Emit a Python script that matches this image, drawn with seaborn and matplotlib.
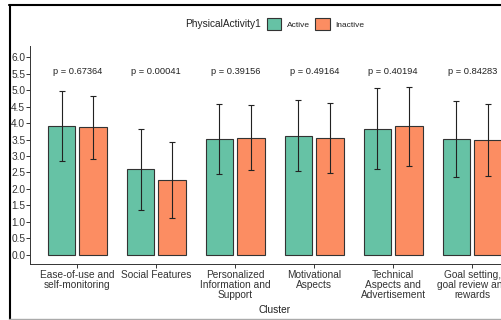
import matplotlib
matplotlib.use("Agg")
import matplotlib.pyplot as plt
import seaborn as sns
import pandas as pd
from matplotlib.lines import Line2D
from matplotlib.patches import Patch

clusters = ["Ease-of-use and\nself-monitoring", "Social Features",
            "Personalized\nInformation and\nSupport", "Motivational\nAspects",
            "Technical\nAspects and\nAdvertisement", "Goal setting,\ngoal review and\nrewards"]
groups = ["Active", "Inactive"]
active_mean = [3.91, 2.60, 3.51, 3.62, 3.83, 3.51]
active_sd = [1.06, 1.23, 1.07, 1.08, 1.23, 1.15]
inactive_mean = [3.87, 2.27, 3.56, 3.55, 3.90, 3.48]
inactive_sd = [0.96, 1.14, 1.00, 1.07, 1.20, 1.10]
p_values = ["0.67364", "0.00041", "0.39156", "0.49164", "0.40194", "0.84283"]
y_ticks = [0.0, 0.5, 1.0, 1.5, 2.0, 2.5, 3.0, 3.5, 4.0, 4.5, 5.0, 5.5, 6.0]

df = pd.DataFrame({
    "Cluster": clusters * 2,
    "PhysicalActivity1": [groups[0]] * len(clusters) + [groups[1]] * len(clusters),
    "mean": active_mean + inactive_mean,
    "sd": active_sd + inactive_sd,
})

sns.set_style("white")
plt.rcParams["font.family"] = ["Liberation Sans", "DejaVu Sans"]

W, H = 501, 320
fig = plt.figure(figsize=(W / 100, H / 100), dpi=100)
fig.patch.set_facecolor("white")

def fx(px):
    return px / W

def fy(py):
    return 1 - py / H

ax_left, ax_right, ax_top, ax_bottom = 30, 519.5, 46, 264
ax = fig.add_axes([fx(ax_left), fy(ax_bottom), (ax_right - ax_left) / W, (ax_bottom - ax_top) / H])

colors = ["#66C2A5", "#FC8D62"]
sns.barplot(data=df, x="Cluster", y="mean", hue="PhysicalActivity1", hue_order=groups,
            palette=colors, saturation=1, width=0.8, gap=0.125, errorbar=None,
            edgecolor="#333333", linewidth=0.8, ax=ax, legend=False)

sd_by_group = {groups[0]: active_sd, groups[1]: inactive_sd}
mean_by_group = {groups[0]: active_mean, groups[1]: inactive_mean}
for g, cont in zip(groups, ax.containers):
    xs = [b.get_x() + b.get_width() / 2 for b in cont]
    ax.errorbar(xs, mean_by_group[g], yerr=sd_by_group[g], fmt="none",
                ecolor="#222222", elinewidth=0.8, capsize=2.2, capthick=0.8, zorder=5)

for i, p in enumerate(p_values):
    ax.text(i, 5.58, f"p = {p}", ha="center", va="center", fontsize=6.7, color="#222222")

ax.set_xlim(-0.6, 5.6)
ax.set_ylim(-0.28, 6.34)
ax.set_yticks(y_ticks)
ax.set_yticklabels([f"{v:.1f}" for v in y_ticks])
ax.set_ylabel("")

for s in ["top", "right"]:
    ax.spines[s].set_visible(False)
for s in ["left", "bottom"]:
    ax.spines[s].set_color("#333333")
    ax.spines[s].set_linewidth(0.7)

ax.tick_params(axis="both", which="both", length=2.6, width=0.7, color="#333333",
               labelsize=7.3, labelcolor="#333333", left=True, bottom=True)
ax.tick_params(axis="y", pad=0.8)
ax.tick_params(axis="x", pad=1.5)
for lab in ax.get_xticklabels():
    lab.set_linespacing(1.05)
    lab.set_ha("center")

ax.set_xlabel("Cluster", fontsize=7.3, color="#222222")
ax.xaxis.set_label_coords(0.5, (ax_bottom - 310) / (ax_bottom - ax_top))
ax.xaxis.label.set_va("center")

# legend (ggplot-style, title inline)
fig.text(fx(260.7), fy(24), "PhysicalActivity1", ha="right", va="center", fontsize=7.3, color="#222222")
handles = [Patch(facecolor=c, edgecolor="#333333", linewidth=0.8) for c in colors]
fs = 6.0
em = fs / 0.72
leg = fig.legend(handles, groups, loc="center left", bbox_to_anchor=(fx(266.7), fy(24)),
                 ncol=2, frameon=False, fontsize=fs, handlelength=14.5 / em, handleheight=14.3 / em,
                 handletextpad=5.4 / em, columnspacing=5.7 / em, borderpad=0, borderaxespad=0)
for t in leg.get_texts():
    t.set_color("#222222")

# outer frame
fig.add_artist(Line2D([fx(9.8), fx(9.8)], [fy(4.5), fy(320)], color="black", linewidth=1.5, transform=fig.transFigure))
fig.add_artist(Line2D([fx(9), fx(501)], [fy(4.8), fy(4.8)], color="black", linewidth=1.5, transform=fig.transFigure))
fig.add_artist(Line2D([fx(9), fx(501)], [fy(319), fy(319)], color="#aaaaaa", linewidth=1.0, transform=fig.transFigure))

fig.savefig("out.png", dpi=100, facecolor="white")
